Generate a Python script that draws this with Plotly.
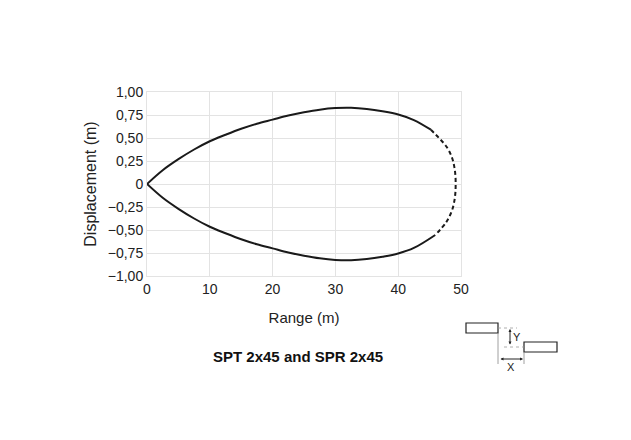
import plotly.graph_objects as go

# Upper envelope (solid part), Range (m) vs Displacement (m)
upper_solid_x = [0, 2.5, 5, 7.5, 10, 12.5, 15, 17.5, 20, 22.5, 25, 27.5, 30, 32.5, 35, 37.5, 40, 42.5, 45.2]
upper_solid_y = [0, 0.15, 0.27, 0.375, 0.465, 0.535, 0.60, 0.655, 0.70, 0.745, 0.78, 0.808, 0.825, 0.828, 0.815, 0.79, 0.755, 0.695, 0.59]
# Lower envelope (solid part)
lower_solid_x = [0, 2.5, 5, 7.5, 10, 12.5, 15, 17.5, 20, 22.5, 25, 27.5, 30, 32.5, 35, 37.5, 40, 42.5, 45.9]
lower_solid_y = [0, -0.15, -0.27, -0.375, -0.465, -0.535, -0.60, -0.655, -0.70, -0.745, -0.78, -0.808, -0.825, -0.828, -0.815, -0.79, -0.755, -0.695, -0.554]
# Dashed end section
dashed_x = [45.2, 46.5, 47.7, 48.5, 48.9, 49.1, 49.15, 49.1, 48.9, 48.5, 47.6, 45.9]
dashed_y = [0.59, 0.50, 0.405, 0.30, 0.20, 0.10, 0.0, -0.10, -0.20, -0.30, -0.42, -0.554]

y_tickvals = [1.0, 0.75, 0.5, 0.25, 0, -0.25, -0.5, -0.75, -1.0]
y_ticktext = ["1,00", "0,75", "0,50", "0,25", "0", "\u22120,25", "\u22120,50", "\u22120,75", "\u22121,00"]
x_tickvals = [0, 10, 20, 30, 40, 50]

FONT = "Liberation Sans, Arial, sans-serif"
INK = "#1a1a1a"

fig = go.Figure()
line_style = dict(color=INK, width=2, shape="spline", smoothing=1)
fig.add_trace(go.Scatter(x=upper_solid_x, y=upper_solid_y, mode="lines",
                         line=line_style, showlegend=False, hoverinfo="skip"))
fig.add_trace(go.Scatter(x=lower_solid_x, y=lower_solid_y, mode="lines",
                         line=line_style, showlegend=False, hoverinfo="skip"))
fig.add_trace(go.Scatter(x=dashed_x, y=dashed_y, mode="lines",
                         line=dict(color=INK, width=2, dash="4px,3px", shape="spline", smoothing=1),
                         showlegend=False, hoverinfo="skip"))

W, H = 631, 440
OFF = 8  # page body margin
L, R, T, B = 147, 461, 92, 276

def px(xp):
    return (xp - L) / (R - L)

def py(yp):
    return (B - yp) / (B - T)

shapes = []
for (x0, y0, x1, y1) in [(466, 323, 498, 333), (524, 342, 557, 352)]:
    shapes.append(dict(type="rect", xref="paper", yref="paper",
                       x0=px(x0), x1=px(x1), y0=py(y1), y1=py(y0),
                       line=dict(color="#222", width=1.2), fillcolor="white"))
shapes.append(dict(type="line", xref="paper", yref="paper", x0=px(498), x1=px(498),
                   y0=py(333), y1=py(364), line=dict(color="#888", width=0.8)))
shapes.append(dict(type="line", xref="paper", yref="paper", x0=px(524), x1=px(524),
                   y0=py(352), y1=py(364), line=dict(color="#888", width=0.8)))
shapes.append(dict(type="line", xref="paper", yref="paper", x0=px(498), x1=px(517),
                   y0=py(328), y1=py(328), line=dict(color="#999", width=0.8, dash="dot")))
shapes.append(dict(type="line", xref="paper", yref="paper", x0=px(504), x1=px(524),
                   y0=py(347), y1=py(347), line=dict(color="#999", width=0.8, dash="dot")))

annotations = [
    dict(text="<b>SPT 2x45 and SPR 2x45</b>", xref="paper", yref="paper",
         x=px(298), y=py(356), showarrow=False,
         font=dict(family=FONT, size=15, color="#111"), xanchor="center", yanchor="middle"),
    dict(text="Y", xref="paper", yref="paper", x=px(517), y=py(337), showarrow=False,
         font=dict(family=FONT, size=11, color="#222"), xanchor="center", yanchor="middle"),
    dict(text="X", xref="paper", yref="paper", x=px(511), y=py(367), showarrow=False,
         font=dict(family=FONT, size=11, color="#222"), xanchor="center", yanchor="middle"),
    dict(text="", xref="paper", yref="paper",
         x=px(510), y=py(329), ax=0, ay=17, showarrow=True,
         arrowhead=2, arrowsize=0.6, arrowwidth=1, arrowcolor="#222", arrowside="end+start"),
    dict(text="", xref="paper", yref="paper",
         x=px(523), y=py(359), ax=-24, ay=0, showarrow=True,
         arrowhead=2, arrowsize=0.6, arrowwidth=1, arrowcolor="#222", arrowside="end+start"),
]

fig.update_layout(
    width=W, height=H,
    margin=dict(l=L - OFF, r=W - R + OFF, t=T - OFF, b=H - B + OFF, pad=0),
    paper_bgcolor="white", plot_bgcolor="white",
    font=dict(family=FONT, size=14, color="#222"),
    shapes=shapes, annotations=annotations,
    xaxis=dict(range=[0, 50], tickvals=x_tickvals, showgrid=True, gridcolor="#e3e3e3",
               gridwidth=1, zeroline=False, showline=True, linecolor="#e3e3e3", mirror=True,
               ticks="", title=dict(text="Range (m)", font=dict(size=15), standoff=16),
               tickfont=dict(size=14)),
    yaxis=dict(range=[-1, 1], tickvals=y_tickvals, ticktext=y_ticktext, showgrid=True,
               gridcolor="#e3e3e3", gridwidth=1, zeroline=False, showline=True,
               linecolor="#e3e3e3", mirror=True, ticks="",
               title=dict(text="Displacement (m)", font=dict(size=16), standoff=7),
               tickfont=dict(size=14)),
)

fig.write_html("out.html")
